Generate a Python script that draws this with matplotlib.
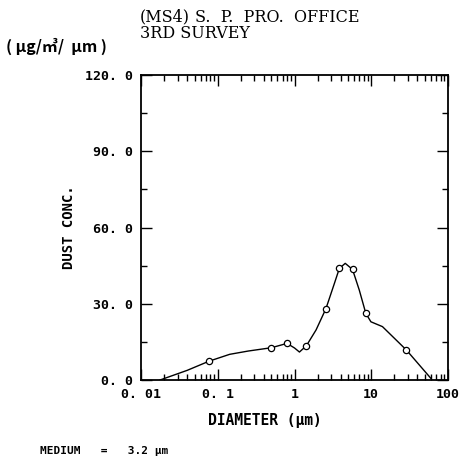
import matplotlib
matplotlib.use("Agg")
import matplotlib.pyplot as plt
from matplotlib.ticker import LogLocator, NullFormatter, FixedLocator

# Smooth curve
curve_x = [0.0177, 0.04, 0.077, 0.143, 0.25, 0.50, 0.80, 1.0, 1.16, 1.43, 1.91, 2.57, 3.31, 3.84, 4.58, 5.7, 6.98, 8.5, 9.9, 14.0, 28.7, 59.6]
curve_y = [0.0, 3.8, 7.4, 10.1, 11.4, 12.7, 14.4, 12.6, 11.0, 13.5, 19.7, 28.1, 38.0, 43.9, 45.9, 43.5, 35.4, 26.2, 22.9, 21.0, 11.8, 0.7]
# Measured points (open circles)
pts_x = [0.077, 0.50, 0.80, 1.43, 2.57, 3.84, 5.7, 8.5, 28.7]
pts_y = [7.4, 12.7, 14.4, 13.5, 28.1, 43.9, 43.5, 26.2, 11.8]

xticks = [0.01, 0.1, 1, 10, 100]
xticklabels = ["0. 01", "0. 1", "1", "10", "100"]
yticks = [0, 30, 60, 90, 120]
yticklabels = ["0. 0", "30. 0", "60. 0", "90. 0", "120. 0"]

title1a = "(MS4)"
title1b = "S.  P.  PRO.  OFFICE"
title2 = "3RD SURVEY"
units = "( μg/㎥/  μm )"
xlabel = "DIAMETER (μm)"
ylabel = "DUST CONC."
median_text = "MEDIUM   =   3.2 μm"

fig = plt.figure(figsize=(4.6, 4.63), dpi=100)
ax = fig.add_axes([141/460, 1-380/463, 307/460, 305/463])
ax.set_xscale("log")
ax.set_xlim(0.01, 100)
ax.set_ylim(0, 120)

ax.plot(curve_x, curve_y, color="black", lw=1.0)
ax.plot(pts_x, pts_y, linestyle="none", marker="o", ms=4.5, mfc="white", mec="black", mew=0.9)

tickfont = dict(family=["DejaVu Sans Mono"], weight="bold", size=9.5)
ax.xaxis.set_major_locator(FixedLocator(xticks))
ax.set_xticklabels(xticklabels, **tickfont)
ax.xaxis.set_minor_locator(LogLocator(base=10, subs=range(2, 10)))
ax.xaxis.set_minor_formatter(NullFormatter())
ax.set_yticks(yticks)
ax.set_yticklabels(yticklabels, **tickfont)
ax.yaxis.set_minor_locator(FixedLocator([15, 45, 75, 105]))

ax.tick_params(which="major", direction="in", length=8, width=1.0, top=True, right=True, pad=6)
ax.tick_params(which="minor", direction="in", length=4, width=1.0, top=True, right=True)
for s in ax.spines.values():
    s.set_linewidth(1.3)

ax.set_ylabel(ylabel, family=["DejaVu Sans Mono"], weight="bold", size=10, labelpad=6)
fig.text(265/460, 1-421/463, xlabel, family=["DejaVu Sans Mono"], weight="bold", size=10.5, va="center", ha="center")

fig.text(140/460, 1-17/463, title1a, family=["DejaVu Serif"], size=11.5, va="center", ha="left")
fig.text(195/460, 1-17/463, title1b, family=["DejaVu Serif"], size=11.5, va="center", ha="left")
fig.text(140/460, 1-33/463, title2, family=["DejaVu Serif"], size=11.5, va="center", ha="left")
fig.text(6/460, 1-46/463, units, family=["Noto Sans CJK JP", "DejaVu Sans"], weight="bold", size=11.5, va="center", ha="left")
fig.text(40/460, 1-451/463, median_text, family=["DejaVu Sans Mono"], weight="bold", size=8, va="center", ha="left")

fig.savefig("out.png", dpi=100)
